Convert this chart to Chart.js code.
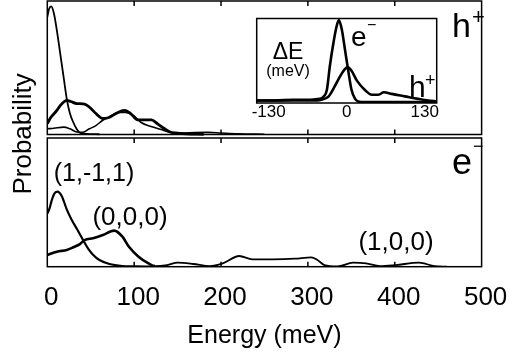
<!DOCTYPE html>
<html>
<head>
<meta charset="utf-8">
<script src="https://cdn.jsdelivr.net/npm/chart.js@4.4.0/dist/chart.umd.min.js"></script>
<style>
  html, body { margin: 0; padding: 0; background: #fff; }
  #wrap { position: relative; width: 519px; height: 356px; }
  #wrap canvas { position: absolute; left: 0; top: 0; }
</style>
</head>
<body>
<div id="wrap">
  <canvas id="main" width="519" height="356"></canvas>
  <canvas id="inset" width="519" height="356"></canvas>
</div>
<script>
// top panel (h+), energies in meV, probability as fraction of panel height
const hPeakE = [0, 2, 4.5, 7.5, 11, 15, 19, 22.6, 26, 30, 34, 38, 45, 60];
const hPeakP = [0.88, 0.94, 0.96, 0.91, 0.78, 0.60, 0.42, 0.26, 0.16, 0.09, 0.04, 0.011, 0.004, 0.002];

const hMainE = [0, 4, 11, 15, 22.6, 27, 34, 43, 49, 56, 64, 71, 79, 89, 96, 104, 112, 120, 127, 135, 142, 150, 160, 180];
const hMainP = [0.082, 0.127, 0.18, 0.217, 0.255, 0.247, 0.232, 0.228, 0.202, 0.157, 0.12, 0.127, 0.157, 0.18, 0.157, 0.109, 0.109, 0.109, 0.08, 0.043, 0.017, 0.01, 0.005, 0.002];

const hLowE = [0, 7.5, 19, 26, 34, 41, 48.5, 56, 63.5, 71, 82, 90, 99, 108, 119.5, 131, 142, 155, 170, 185, 200, 220, 250];
const hLowP = [0.043, 0.047, 0.055, 0.043, 0.019, 0.017, 0.043, 0.067, 0.105, 0.13, 0.165, 0.165, 0.142, 0.09, 0.06, 0.037, 0.017, 0.011, 0.015, 0.016, 0.011, 0.005, 0.002];

// bottom panel (e-)
const e111E = [0, 2.5, 5, 8, 11.3, 14, 17, 22.5, 28, 34, 41, 47, 52.6, 60, 71.5, 86.5, 100, 120];
const e111P = [0.412, 0.451, 0.513, 0.567, 0.583, 0.575, 0.544, 0.443, 0.365, 0.295, 0.21, 0.14, 0.093, 0.052, 0.021, 0.005, 0.002, 0];

const e000E = [0, 11, 22.5, 30, 37.6, 43, 52.6, 64, 77, 86.5, 94, 105, 116.5, 124, 138, 150, 168, 187, 202, 221, 236, 259, 285, 304, 311, 319, 334, 352, 367, 383, 401, 428, 446, 460];
const e000P = [0.091, 0.117, 0.13, 0.151, 0.176, 0.207, 0.221, 0.246, 0.28, 0.233, 0.155, 0.078, 0.026, 0.005, 0.013, 0.031, 0.021, 0.004, 0.026, 0.083, 0.057, 0.057, 0.062, 0.073, 0.052, 0.013, 0.002, 0.031, 0.026, 0.005, 0.013, 0.031, 0.004, 0];

const energyTicks = [0, 100, 200, 300, 400, 500];

// inset: Delta E (meV)
const insetEl = [-150, -120, -90, -60, -45, -38, -33, -28, -22, -17, -13, -8, -3, 3, 8, 14, 19, 30, 60, 100, 150];
const insetElP = [0.03, 0.03, 0.04, 0.04, 0.05, 0.08, 0.16, 0.45, 0.73, 0.92, 1.0, 0.88, 0.65, 0.37, 0.16, 0.05, 0.02, 0.01, 0.01, 0.01, 0.01];
const insetHo = [-150, -100, -60, -42, -30, -20, -12, -3, 2, 8, 17, 30, 42, 53, 62, 75, 97, 119, 136, 150];
const insetHoP = [0.03, 0.03, 0.03, 0.04, 0.08, 0.2, 0.31, 0.41, 0.43, 0.39, 0.27, 0.16, 0.1, 0.1, 0.13, 0.11, 0.08, 0.05, 0.03, 0.02];
const insetTicks = [-130, 0, 130];

// layout (px)
const TOP_Y = 1, TOP_BASE = 134.5, BOT_TOP = 138, BOT_BASE = 266.7;
const FONT = "'Liberation Sans', Arial, Helvetica, sans-serif";

const pts = (xs, ys) => xs.map((x, i) => ({ x: x, y: ys[i] }));

const line = (data, axis, width) => ({
  data: data,
  yAxisID: axis,
  borderColor: '#000',
  borderWidth: width,
  pointRadius: 0,
  fill: false,
  cubicInterpolationMode: 'monotone'
});

function txt(ctx, s, x, y, size, align, base) {
  ctx.font = size + 'px ' + FONT;
  ctx.textAlign = align || 'left';
  ctx.textBaseline = base || 'alphabetic';
  ctx.fillText(s, x, y);
}

const panelFrames = {
  id: 'panelFrames',
  afterDraw(chart) {
    const { ctx, chartArea, scales } = chart;
    const x = scales.x;
    const panels = [
      [scales.yTop.getPixelForValue(1), scales.yTop.getPixelForValue(0)],
      [scales.yBot.getPixelForValue(1), scales.yBot.getPixelForValue(0)]
    ];
    ctx.save();
    ctx.strokeStyle = '#000';
    ctx.lineWidth = 1.5;
    panels.forEach(([t, b]) => {
      ctx.strokeRect(chartArea.left, t, chartArea.right - chartArea.left, b - t);
      energyTicks.slice(1, -1).forEach(v => {
        const px = x.getPixelForValue(v);
        ctx.beginPath();
        ctx.moveTo(px, t); ctx.lineTo(px, t + 5);
        ctx.moveTo(px, b); ctx.lineTo(px, b - 5);
        ctx.stroke();
      });
    });
    ctx.fillStyle = '#000';
    txt(ctx, 'h', 452, 37, 34);
    txt(ctx, '+', 472, 24, 22);
    txt(ctx, 'e', 452, 174, 36);
    txt(ctx, '\u2212', 473, 152, 18);
    txt(ctx, '(1,-1,1)', 94, 174, 25, 'center', 'middle');
    txt(ctx, '(0,0,0)', 130, 218, 26, 'center', 'middle');
    txt(ctx, '(1,0,0)', 396, 243, 26, 'center', 'middle');
    ctx.restore();
  }
};

new Chart(document.getElementById('main'), {
  type: 'line',
  data: {
    datasets: [
      line(pts(hPeakE, hPeakP), 'yTop', 1.8),
      line(pts(hMainE, hMainP), 'yTop', 2.8),
      line(pts(hLowE, hLowP), 'yTop', 1.6),
      line(pts(e111E, e111P), 'yBot', 2.2),
      Object.assign(line(pts(e000E, e000P), 'yBot', 2.6), {
        segment: { borderWidth: c => c.p0.parsed.x >= 124 ? 1.8 : 2.6 }
      })
    ]
  },
  options: {
    responsive: false,
    animation: false,
    events: [],
    layout: { padding: { left: 0, right: 28, top: TOP_Y, bottom: 0 } },
    plugins: { legend: { display: false }, tooltip: { enabled: false } },
    scales: {
      x: {
        type: 'linear',
        min: 0,
        max: 500,
        afterBuildTicks: s => { s.ticks = energyTicks.map(v => ({ value: v })); },
        afterFit: s => { s.height = 356 - BOT_BASE; },
        grid: { display: false, drawTicks: false },
        border: { display: false },
        ticks: { color: '#000', font: { family: FONT, size: 26 }, padding: 15.7, labelOffset: 4, maxRotation: 0, autoSkip: false },
        title: { display: true, text: 'Energy (meV)', color: '#000', font: { family: FONT, size: 25 }, padding: { top: 0, bottom: 4.7 } }
      },
      yBot: {
        position: 'left',
        min: 0,
        max: (BOT_BASE - TOP_Y) / (BOT_BASE - BOT_TOP),
        afterFit: s => { s.width = 47.3; },
        grid: { display: false, drawTicks: false },
        border: { display: false },
        ticks: { display: false },
        title: { display: true, text: 'Probability', color: '#000', font: { family: FONT, size: 26 }, padding: { top: 8, bottom: 0 } }
      },
      yTop: {
        position: 'left',
        display: false,
        min: -(BOT_BASE - TOP_BASE) / (TOP_BASE - TOP_Y),
        max: 1
      }
    }
  },
  plugins: [panelFrames]
});

const insetBox = {
  id: 'insetBox',
  beforeDraw(chart) {
    const a = chart.chartArea;
    chart.ctx.save();
    chart.ctx.fillStyle = '#fff';
    chart.ctx.fillRect(a.left, a.top, a.right - a.left, a.bottom - a.top);
    chart.ctx.restore();
  },
  afterDraw(chart) {
    const { ctx, chartArea: a } = chart;
    ctx.save();
    ctx.strokeStyle = '#000';
    ctx.lineWidth = 1.5;
    ctx.strokeRect(a.left, a.top, a.right - a.left, a.bottom - a.top);
    ctx.fillStyle = '#000';
    txt(ctx, '\u0394E', 288, 53, 23, 'center', 'middle');
    txt(ctx, '(meV)', 288, 72, 16, 'center', 'middle');
    txt(ctx, 'e', 351, 46, 28);
    txt(ctx, '\u2212', 367, 30, 16);
    txt(ctx, 'h', 409, 97, 30);
    txt(ctx, '+', 425, 86, 18);
    ctx.restore();
  }
};

new Chart(document.getElementById('inset'), {
  type: 'line',
  data: {
    datasets: [
      line(pts(insetEl, insetElP), 'y', 2.6),
      line(pts(insetHo, insetHoP), 'y', 2.6)
    ]
  },
  options: {
    responsive: false,
    animation: false,
    events: [],
    layout: { padding: { left: 256.7, right: 82.3, top: 18.5, bottom: 356 - 125 } },
    plugins: { legend: { display: false }, tooltip: { enabled: false } },
    scales: {
      x: {
        type: 'linear',
        min: -150,
        max: 150,
        afterBuildTicks: s => { s.ticks = insetTicks.map(v => ({ value: v })); },
        afterFit: s => { s.height = 22; },
        grid: { display: false, drawTicks: false },
        border: { display: false },
        ticks: { color: '#000', font: { family: FONT, size: 17 }, padding: -0.5, maxRotation: 0, autoSkip: false }
      },
      y: { display: false, min: 0, max: 1.02 }
    }
  },
  plugins: [insetBox]
});
</script>
</body>
</html>
